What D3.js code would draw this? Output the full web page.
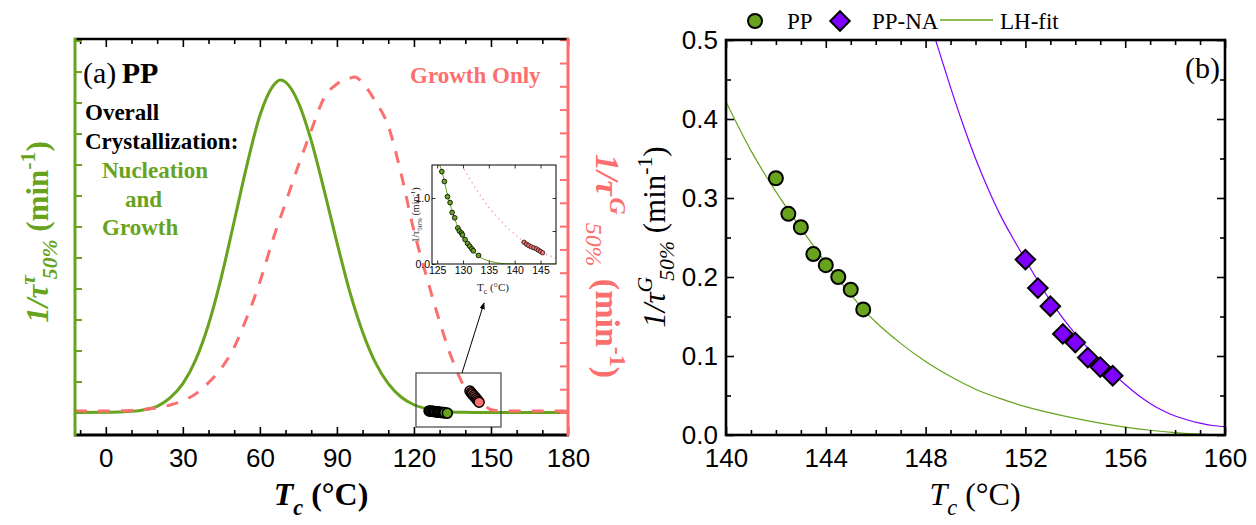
<!DOCTYPE html>
<html>
<head>
<meta charset="utf-8">
<script src="https://cdn.jsdelivr.net/npm/d3@7"></script>
<style>
  body { margin: 0; background: #fff; }
  svg { font-family: "Liberation Serif", "Times New Roman", serif; }
</style>
</head>
<body>
<svg id="chart" width="1256" height="525"></svg>
<script>
// ---- panel (a): overall crystallization (left axis) and growth only (right axis)
const ovT = [-12, 0, 5, 10, 15, 20, 25, 30, 35, 40, 45, 50, 55, 60, 65, 68, 70, 75, 80, 85, 90, 95, 100, 105, 110, 115, 120, 125, 130, 135, 140, 150, 165, 180];
const ovRate = [0, 0.0005, 0.0015, 0.0036, 0.009, 0.02, 0.047, 0.093, 0.17, 0.284, 0.437, 0.617, 0.80, 0.958, 1.052, 1.073, 1.066, 1.0, 0.877, 0.718, 0.549, 0.39, 0.26, 0.161, 0.093, 0.05, 0.025, 0.012, 0.005, 0.002, 0.001, 0, 0, 0];

const grT = [-12, 0, 10, 20, 25, 30, 35, 40, 45, 50, 55, 60, 65, 70, 75, 80, 85, 90, 95, 97, 100, 105, 110, 115, 120, 125, 130, 135, 140, 145, 150, 155, 180];
const grRate = [0.006, 0.006, 0.009, 0.02, 0.032, 0.05, 0.08, 0.128, 0.19, 0.28, 0.41, 0.56, 0.74, 0.9, 1.06, 1.21, 1.35, 1.41, 1.435, 1.44, 1.415, 1.335, 1.23, 1.025, 0.78, 0.58, 0.39, 0.225, 0.105, 0.062, 0.012, 0.006, 0.006];

// measured points (inset values and the same points as they sit on the main axes)
const insOvT = [125.9, 126.4, 127.0, 127.5, 127.9, 128.4, 129.0, 129.3, 129.7, 129.9, 130.4, 130.9, 131.3, 131.7, 132.0, 133.0];
const insOvRate = [1.40, 1.25, 1.02, 0.93, 0.78, 0.70, 0.545, 0.50, 0.47, 0.44, 0.37, 0.31, 0.27, 0.23, 0.20, 0.13];
const mainOvRate = [0.005, 0.0045, 0.004, 0.0035, 0.003, 0.0025, 0.002, 0.0015, 0.001, 0.001, 0.0005, 0, 0, -0.0005, -0.001, -0.002];

const insGrT = [141.8, 142.3, 142.7, 143.2, 143.7, 144.2, 144.6, 145.0, 145.4];
const insGrRate = [0.33, 0.30, 0.28, 0.26, 0.245, 0.23, 0.21, 0.19, 0.17];
const mainGrRate = [0.092, 0.085, 0.079, 0.073, 0.067, 0.061, 0.055, 0.049, 0.044];

const insFitT = [124.5, 125.5, 126, 127, 128, 129, 130, 131, 132, 133, 134, 135, 136, 137, 138, 139, 140, 148];
const insFitRate = [1.62, 1.5, 1.38, 1.05, 0.78, 0.56, 0.40, 0.28, 0.19, 0.12, 0.075, 0.045, 0.025, 0.012, 0.005, 0.002, 0, 0];
const insGrFitT = [129.7, 131, 133, 135, 137, 139, 141, 143, 145, 147, 148];
const insGrFitRate = [1.5, 1.33, 1.08, 0.86, 0.68, 0.52, 0.39, 0.28, 0.19, 0.12, 0.09];

const aMajorTicks = [0, 30, 60, 90, 120, 150, 180];
const insXTicks = [125, 130, 135, 140, 145];
const insYTicks = [0, 1];

// ---- panel (b): growth rate, PP vs PP-NA with Lauritzen-Hoffman fits
const ppT = [142, 142.5, 143, 143.5, 144, 144.5, 145, 145.5];
const ppRate = [0.325, 0.28, 0.263, 0.229, 0.215, 0.2, 0.184, 0.159];
const naT = [152, 152.5, 153, 153.5, 154, 154.5, 155, 155.5];
const naRate = [0.222, 0.186, 0.163, 0.128, 0.117, 0.098, 0.086, 0.075];

const ppFitT = [140, 141, 142, 143, 144, 145, 145.5, 146, 147, 148, 149, 150, 151, 152, 153, 154, 155, 156, 157, 158, 159, 160];
const ppFitRate = [0.422, 0.36, 0.308, 0.262, 0.218, 0.178, 0.159, 0.143, 0.116, 0.093, 0.074, 0.058, 0.046, 0.036, 0.028, 0.021, 0.015, 0.01, 0.006, 0.003, 0.001, 0];
const naFitT = [148.3, 148.5, 149, 149.5, 150, 150.5, 151, 151.5, 152, 152.5, 153, 153.5, 154, 154.5, 155, 155.5, 156, 156.5, 157, 157.5, 158, 158.5, 159, 159.5, 160];
const naFitRate = [0.51, 0.49, 0.44, 0.393, 0.35, 0.312, 0.278, 0.249, 0.222, 0.195, 0.17, 0.148, 0.128, 0.11, 0.093, 0.078, 0.064, 0.051, 0.04, 0.031, 0.024, 0.019, 0.015, 0.012, 0.0105];

const bXTicks = [140, 144, 148, 152, 156, 160];
const bYTicks = [0.0, 0.1, 0.2, 0.3, 0.4, 0.5];

const GREEN = '#67a31c';
const SALMON = '#fb6f6f';
const PURPLE = '#8000ff';

const svg = d3.select('#chart');
const defs = svg.append('defs');

// text with italic / bold / sup / sub pieces
function rich(sel, parts, size) {
  let off = 0;
  parts.forEach(p => {
    const target = p.sup ? -size * 0.42 : p.sub ? size * 0.3 : 0;
    sel.append('tspan')
      .attr('dy', target - off)
      .attr('dx', p.dx || 0)
      .attr('font-size', (p.sup || p.sub) ? size * 0.7 : size)
      .attr('font-style', p.it ? 'italic' : 'normal')
      .attr('font-weight', p.b ? 'bold' : 'normal')
      .text(p.t);
    off = target;
  });
}

function styleTicks(g, size, color) {
  g.select('.domain').remove();
  g.selectAll('line').attr('stroke', color || '#000').attr('stroke-width', 1.6);
  g.selectAll('text').attr('font-family', null).attr('font-size', size).attr('fill', '#000');
}

// ================= panel (a) =================
const xa = d3.scaleLinear().domain([-12, 180]).range([75, 568]);
const yL = d3.scaleLinear().domain([-0.0726, 1.205]).range([435, 39]);
const yR = d3.scaleLinear().domain([-0.0966, 1.603]).range([435, 39]);

defs.append('clipPath').attr('id', 'clipA')
  .append('rect').attr('x', 75).attr('y', 39).attr('width', 493).attr('height', 396);

const gA = svg.append('g');
const curvesA = gA.append('g').attr('clip-path', 'url(#clipA)');

curvesA.append('path')
  .datum(ovT.map((t, i) => [t, ovRate[i]]))
  .attr('fill', 'none').attr('stroke', GREEN).attr('stroke-width', 3)
  .attr('d', d3.line().x(d => xa(d[0])).y(d => yL(d[1])).curve(d3.curveMonotoneX));

curvesA.append('path')
  .datum(grT.map((t, i) => [t, grRate[i]]))
  .attr('fill', 'none').attr('stroke', SALMON).attr('stroke-width', 3)
  .attr('stroke-dasharray', '12,11')
  .attr('d', d3.line().x(d => xa(d[0])).y(d => yR(d[1])).curve(d3.curveMonotoneX));

// data blobs on the main axes
gA.append('g').selectAll('circle')
  .data(insOvT.map((t, i) => [t, mainOvRate[i]]))
  .join('circle')
  .attr('cx', d => xa(d[0])).attr('cy', d => yL(d[1])).attr('r', 5)
  .attr('fill', GREEN).attr('stroke', '#000').attr('stroke-width', 1.6);

gA.append('g').selectAll('circle')
  .data(insGrT.map((t, i) => [t, mainGrRate[i]]))
  .join('circle')
  .attr('cx', d => xa(d[0])).attr('cy', d => yR(d[1])).attr('r', 5)
  .attr('fill', SALMON).attr('stroke', '#000').attr('stroke-width', 1.4);

// zoom box and arrow
gA.append('rect')
  .attr('x', xa(120.8)).attr('y', 373).attr('width', xa(153.9) - xa(120.8)).attr('height', 54)
  .attr('fill', 'none').attr('stroke', '#444').attr('stroke-width', 1.2);

defs.append('marker').attr('id', 'arrow')
  .attr('viewBox', '0 0 10 10').attr('refX', 9).attr('refY', 5)
  .attr('markerWidth', 7).attr('markerHeight', 7).attr('orient', 'auto')
  .append('path').attr('d', 'M0,1 L10,5 L0,9 z').attr('fill', '#000');

gA.append('line')
  .attr('x1', 462).attr('y1', 373).attr('x2', 484).attr('y2', 303)
  .attr('stroke', '#000').attr('stroke-width', 1).attr('marker-end', 'url(#arrow)');

// ----- inset
const xi = d3.scaleLinear().domain([124, 148]).range([432, 556]);
const yi = d3.scaleLinear().domain([0, 1.5]).range([264, 165]);
defs.append('clipPath').attr('id', 'clipI')
  .append('rect').attr('x', 432).attr('y', 165).attr('width', 124).attr('height', 99);

const gI = svg.append('g');
const curvesI = gI.append('g').attr('clip-path', 'url(#clipI)');
curvesI.append('path')
  .datum(insFitT.map((t, i) => [t, insFitRate[i]]))
  .attr('fill', 'none').attr('stroke', GREEN).attr('stroke-width', 1)
  .attr('d', d3.line().x(d => xi(d[0])).y(d => yi(d[1])).curve(d3.curveMonotoneX));
curvesI.append('path')
  .datum(insGrFitT.map((t, i) => [t, insGrFitRate[i]]))
  .attr('fill', 'none').attr('stroke', SALMON).attr('stroke-width', 1.2)
  .attr('stroke-dasharray', '1,4')
  .attr('d', d3.line().x(d => xi(d[0])).y(d => yi(d[1])).curve(d3.curveMonotoneX));
curvesI.selectAll('circle.ov')
  .data(insOvT.map((t, i) => [t, insOvRate[i]]))
  .join('circle').attr('class', 'ov')
  .attr('cx', d => xi(d[0])).attr('cy', d => yi(d[1])).attr('r', 2.4)
  .attr('fill', GREEN).attr('stroke', '#000').attr('stroke-width', 0.8);
curvesI.selectAll('circle.gr')
  .data(insGrT.map((t, i) => [t, insGrRate[i]]))
  .join('circle').attr('class', 'gr')
  .attr('cx', d => xi(d[0])).attr('cy', d => yi(d[1])).attr('r', 2.2)
  .attr('fill', SALMON).attr('stroke', '#000').attr('stroke-width', 0.7);

gI.append('g').attr('transform', 'translate(0,264)')
  .call(d3.axisBottom(xi).tickValues(insXTicks).tickSize(-3.5).tickPadding(3))
  .call(g => styleTicks(g, 10.5)).call(g => g.selectAll('line').attr('stroke-width', 0.8));
gI.append('g').attr('transform', 'translate(0,165)')
  .call(d3.axisTop(xi).tickValues(insXTicks).tickSize(-3.5).tickFormat(''))
  .call(g => styleTicks(g, 10)).call(g => g.selectAll('line').attr('stroke-width', 0.8));
gI.append('g').attr('transform', 'translate(432,0)')
  .call(d3.axisLeft(yi).tickValues(insYTicks).tickSize(-3.5).tickPadding(2))
  .call(g => styleTicks(g, 10.5)).call(g => g.selectAll('line').attr('stroke-width', 0.8));
gI.append('g').attr('transform', 'translate(556,0)')
  .call(d3.axisRight(yi).tickValues([0.5, 1]).tickSize(-3.5).tickFormat(''))
  .call(g => styleTicks(g, 10)).call(g => g.selectAll('line').attr('stroke-width', 0.8));
gI.append('rect').attr('x', 432).attr('y', 165).attr('width', 124).attr('height', 99)
  .attr('fill', 'none').attr('stroke', '#000').attr('stroke-width', 1);

const insYL = gI.append('text').attr('transform', 'translate(419,215) rotate(-90)')
  .attr('text-anchor', 'middle').attr('fill', '#222');
rich(insYL, [{ t: '1/τ' }, { t: '50%', sub: true }, { t: '\u00a0(min' }, { t: '-1', sup: true }, { t: ')' }], 10);
const insXL = gI.append('text').attr('x', 493).attr('y', 291)
  .attr('text-anchor', 'middle').attr('fill', '#222');
rich(insXL, [{ t: 'T' }, { t: 'c', sub: true }, { t: '\u00a0(°C)' }], 11);

// ----- axes (a)
const aMinor = d3.range(-10, 181, 10).filter(v => v % 30 !== 0);
gA.append('g').attr('transform', 'translate(0,435)')
  .call(d3.axisBottom(xa).tickValues(aMajorTicks).tickSize(-8).tickPadding(13.5).tickFormat(d3.format('d')))
  .call(g => styleTicks(g, 26));
gA.append('g').attr('transform', 'translate(0,435)')
  .call(d3.axisBottom(xa).tickValues(aMinor).tickSize(-5).tickFormat(''))
  .call(g => styleTicks(g, 26));
gA.append('g').attr('transform', 'translate(0,39)')
  .call(d3.axisTop(xa).tickValues(aMajorTicks).tickSize(-8).tickFormat(''))
  .call(g => styleTicks(g, 26));
gA.append('g').attr('transform', 'translate(0,39)')
  .call(d3.axisTop(xa).tickValues(aMinor).tickSize(-5).tickFormat(''))
  .call(g => styleTicks(g, 26));
gA.append('g').attr('transform', 'translate(75,0)')
  .call(d3.axisLeft(yL).tickValues(d3.range(0, 12.5, 1).map(v => v / 10)).tickSize(-7).tickFormat(''))
  .call(g => styleTicks(g, 26, GREEN)).call(g => g.selectAll('line').attr('stroke-width', 2));
gA.append('g').attr('transform', 'translate(568,0)')
  .call(d3.axisRight(yR).tickValues(d3.range(0, 16.5, 1).map(v => v / 10)).tickSize(-8).tickFormat(''))
  .call(g => styleTicks(g, 26, SALMON)).call(g => g.selectAll('line').attr('stroke-width', 2));

gA.append('line').attr('x1', 74).attr('x2', 569).attr('y1', 39).attr('y2', 39).attr('stroke', '#000').attr('stroke-width', 2.5);
gA.append('line').attr('x1', 74).attr('x2', 569).attr('y1', 435).attr('y2', 435).attr('stroke', '#000').attr('stroke-width', 3);
gA.append('line').attr('x1', 75).attr('x2', 75).attr('y1', 38).attr('y2', 436).attr('stroke', GREEN).attr('stroke-width', 3);
gA.append('line').attr('x1', 568).attr('x2', 568).attr('y1', 38).attr('y2', 436).attr('stroke', SALMON).attr('stroke-width', 3);

// texts (a)
const tA = gA.append('text').attr('x', 83).attr('y', 83);
rich(tA, [{ t: '(a)' }, { t: '\u00a0PP', b: true, dx: -2 }], 30);
gA.append('text').attr('x', 85).attr('y', 120).attr('font-size', 23).attr('font-weight', 'bold').text('Overall');
gA.append('text').attr('x', 85).attr('y', 149).attr('font-size', 23).attr('font-weight', 'bold').text('Crystallization:');
gA.append('text').attr('x', 102).attr('y', 178).attr('font-size', 23).attr('font-weight', 'bold').attr('fill', GREEN).text('Nucleation');
gA.append('text').attr('x', 125).attr('y', 207).attr('font-size', 23).attr('font-weight', 'bold').attr('fill', GREEN).text('and');
gA.append('text').attr('x', 102).attr('y', 235).attr('font-size', 23).attr('font-weight', 'bold').attr('fill', GREEN).text('Growth');
gA.append('text').attr('x', 410).attr('y', 83).attr('font-size', 23).attr('font-weight', 'bold').attr('fill', SALMON).text('Growth Only');

const xlA = gA.append('text').attr('x', 321).attr('y', 505).attr('text-anchor', 'middle').attr('font-weight', 'bold');
rich(xlA, [{ t: 'T', it: true, b: true }, { t: 'c', it: true, b: true, sub: true }, { t: '\u00a0(°C)', b: true }], 32);

const ylA = gA.append('text').attr('transform', 'translate(48,232) rotate(-90)')
  .attr('text-anchor', 'middle').attr('fill', GREEN);
rich(ylA, [{ t: '1/τ', it: true, b: true }, { t: 'τ', it: true, b: true, sup: true }, { t: '50%', it: true, b: true, sub: true, dx: -4 },
  { t: '\u00a0(min', b: true }, { t: '-1', b: true, sup: true }, { t: ')', b: true }], 31);

const yrA = gA.append('text').attr('transform', 'translate(596,266) rotate(90)')
  .attr('text-anchor', 'middle').attr('fill', SALMON);
rich(yrA, [{ t: '1/τ', it: true, b: true }, { t: 'G', it: true, b: true, sup: true, dx: 2 }, { t: '50%', it: true, sub: true, dx: 8 },
  { t: '\u00a0(min', b: true, dx: 4 }, { t: '-1', b: true, sup: true }, { t: ')', b: true }], 34);

// ================= panel (b) =================
const xb = d3.scaleLinear().domain([140, 160]).range([726, 1225]);
const yb = d3.scaleLinear().domain([0, 0.5]).range([435, 40]);
defs.append('clipPath').attr('id', 'clipB')
  .append('rect').attr('x', 726).attr('y', 40).attr('width', 499).attr('height', 395);

const gB = svg.append('g');
const lineB = d3.line().x(d => xb(d[0])).y(d => yb(d[1])).curve(d3.curveMonotoneX);
const fitsB = gB.append('g').attr('clip-path', 'url(#clipB)');
fitsB.append('path').datum(ppFitT.map((t, i) => [t, ppFitRate[i]]))
  .attr('fill', 'none').attr('stroke', GREEN).attr('stroke-width', 1.2).attr('d', lineB);
fitsB.append('path').datum(naFitT.map((t, i) => [t, naFitRate[i]]))
  .attr('fill', 'none').attr('stroke', PURPLE).attr('stroke-width', 1.2).attr('d', lineB);

gB.append('g').selectAll('circle')
  .data(ppT.map((t, i) => [t, ppRate[i]]))
  .join('circle')
  .attr('cx', d => xb(d[0])).attr('cy', d => yb(d[1])).attr('r', 7)
  .attr('fill', GREEN).attr('stroke', '#000').attr('stroke-width', 2);

const diamond = d3.symbol().type(d3.symbolSquare).size(190);
gB.append('g').selectAll('path')
  .data(naT.map((t, i) => [t, naRate[i]]))
  .join('path')
  .attr('d', diamond)
  .attr('transform', d => `translate(${xb(d[0])},${yb(d[1])}) rotate(45)`)
  .attr('fill', PURPLE).attr('stroke', '#000').attr('stroke-width', 2);

// axes (b)
const bXMinor = d3.range(141, 160, 1).filter(v => v % 4 !== 0);
const bYMinor = [0.05, 0.15, 0.25, 0.35, 0.45];
gB.append('g').attr('transform', 'translate(0,435)')
  .call(d3.axisBottom(xb).tickValues(bXTicks).tickSize(-8).tickPadding(13.5).tickFormat(d3.format('d')))
  .call(g => styleTicks(g, 26));
gB.append('g').attr('transform', 'translate(0,435)')
  .call(d3.axisBottom(xb).tickValues(bXMinor).tickSize(-5).tickFormat(''))
  .call(g => styleTicks(g, 26));
gB.append('g').attr('transform', 'translate(0,40)')
  .call(d3.axisTop(xb).tickValues(bXTicks).tickSize(-8).tickFormat(''))
  .call(g => styleTicks(g, 26));
gB.append('g').attr('transform', 'translate(0,40)')
  .call(d3.axisTop(xb).tickValues(bXMinor).tickSize(-5).tickFormat(''))
  .call(g => styleTicks(g, 26));
gB.append('g').attr('transform', 'translate(726,0)')
  .call(d3.axisLeft(yb).tickValues(bYTicks).tickSize(-8).tickPadding(8).tickFormat(d3.format('.1f')))
  .call(g => styleTicks(g, 26));
gB.append('g').attr('transform', 'translate(726,0)')
  .call(d3.axisLeft(yb).tickValues(bYMinor).tickSize(-5).tickFormat(''))
  .call(g => styleTicks(g, 26));
gB.append('g').attr('transform', 'translate(1225,0)')
  .call(d3.axisRight(yb).tickValues(bYTicks).tickSize(-8).tickFormat(''))
  .call(g => styleTicks(g, 26));
gB.append('g').attr('transform', 'translate(1225,0)')
  .call(d3.axisRight(yb).tickValues(bYMinor).tickSize(-5).tickFormat(''))
  .call(g => styleTicks(g, 26));
gB.append('rect').attr('x', 726).attr('y', 40).attr('width', 499).attr('height', 395)
  .attr('fill', 'none').attr('stroke', '#000').attr('stroke-width', 2.6);

gB.append('text').attr('x', 1220).attr('y', 78).attr('text-anchor', 'end').attr('font-size', 30).text('(b)');

const xlB = gB.append('text').attr('x', 975).attr('y', 505).attr('text-anchor', 'middle');
rich(xlB, [{ t: 'T', it: true }, { t: 'c', it: true, sub: true }, { t: '\u00a0(°C)' }], 32);

const ylB = gB.append('text').attr('transform', 'translate(665,237) rotate(-90)').attr('text-anchor', 'middle');
rich(ylB, [{ t: '1/τ', it: true }, { t: 'G', it: true, sup: true }, { t: '50%', it: true, sub: true, dx: -4 },
  { t: '\u00a0(min' }, { t: '-1', sup: true }, { t: ')' }], 31);

// legend (b)
const leg = gB.append('g');
leg.append('circle').attr('cx', 755).attr('cy', 21).attr('r', 7)
  .attr('fill', GREEN).attr('stroke', '#000').attr('stroke-width', 2);
leg.append('text').attr('x', 787).attr('y', 29).attr('font-size', 23).text('PP');
leg.append('path').attr('d', diamond).attr('transform', 'translate(840,21) rotate(45)')
  .attr('fill', PURPLE).attr('stroke', '#000').attr('stroke-width', 2);
leg.append('text').attr('x', 872).attr('y', 29).attr('font-size', 23).text('PP-NA');
leg.append('line').attr('x1', 940).attr('x2', 993).attr('y1', 20).attr('y2', 20)
  .attr('stroke', GREEN).attr('stroke-width', 1.3);
leg.append('text').attr('x', 1000).attr('y', 29).attr('font-size', 23).text('LH-fit');
</script>
</body>
</html>
